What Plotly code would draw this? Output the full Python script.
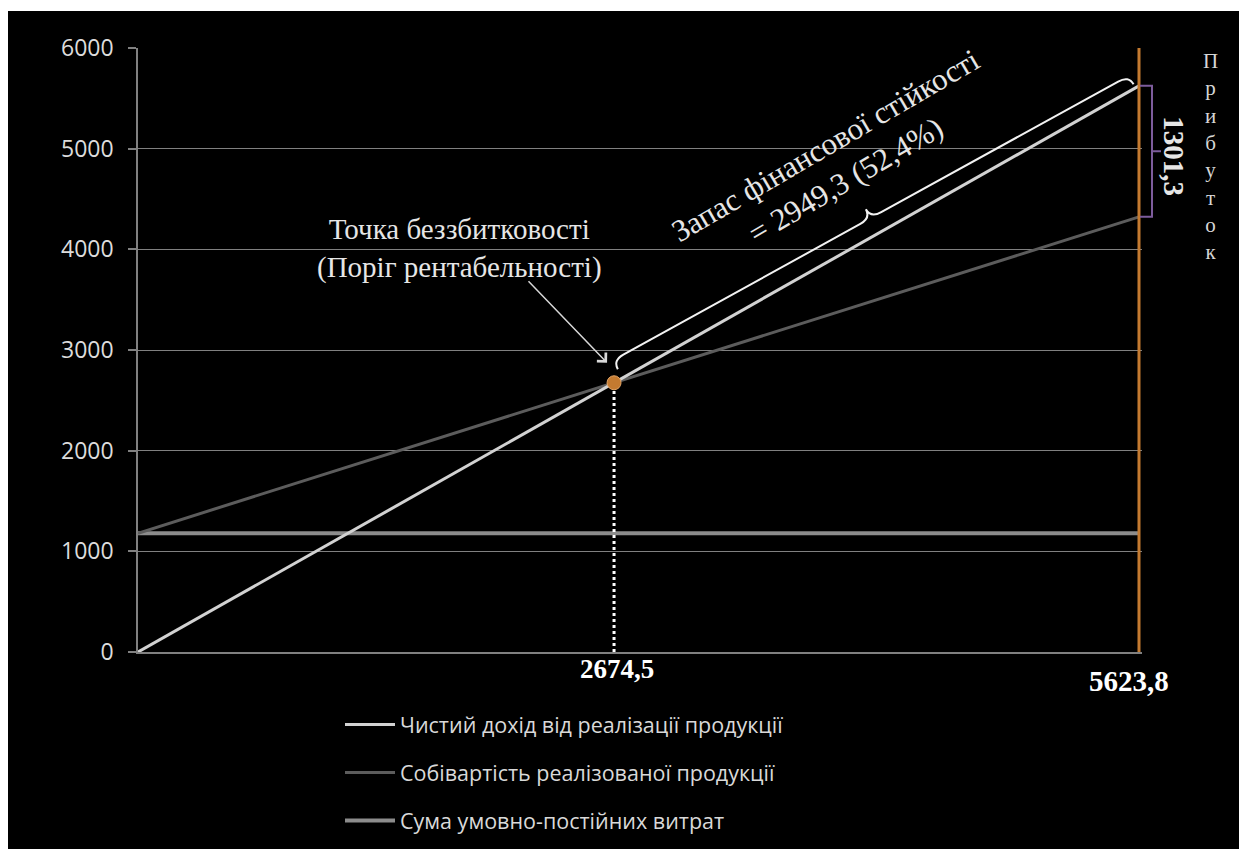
import math
import plotly.graph_objects as go

# Break-even analysis (thousand UAH)
sales_volume = [0, 5623.8]
net_revenue = [0, 5623.8]
total_cost = [1180.0, 4322.5]
fixed_cost = [1180.0, 1180.0]
break_even = 2674.5
actual_sales = 5623.8
profit = 1301.3
y_ticks = [0, 1000, 2000, 3000, 4000, 5000, 6000]

series_names = [
    "Чистий дохід від реалізації продукції",
    "Собівартість реалізованої продукції",
    "Сума умовно-постійних витрат",
]

# Page / plot geometry (px)
W, H = 1239, 849
ML, MT, MB = 138, 48, 197
PLOT_W = 1004
PLOT_H = H - MT - MB
X_MAX = actual_sales * PLOT_W / 1001
Y_MAX = 6000

SERIF = "Liberation Serif, Times New Roman, serif"
SANS = "Open Sans, Noto Sans, sans-serif"
TEXT = "#e6e6e6"
GRID = "#808080"
ORANGE = "#c47a30"
PURPLE = "#7d5c9c"


def to_px(x, y):
    return ML + x / X_MAX * PLOT_W, MT + (1 - y / Y_MAX) * PLOT_H


def to_data(px, py):
    return (px - ML) / PLOT_W * X_MAX, (1 - (py - MT) / PLOT_H) * Y_MAX


def fmt(v, nd=1):
    return f"{v:.{nd}f}".replace(".", ",")


fig = go.Figure()

fig.add_trace(go.Scatter(
    x=sales_volume, y=fixed_cost, mode="lines", name=series_names[2],
    line=dict(color="#8c8c8c", width=4), legendgroup="c", legendrank=3,
))
fig.add_trace(go.Scatter(
    x=sales_volume, y=total_cost, mode="lines", name=series_names[1],
    line=dict(color="#5c5c5c", width=3), legendgroup="b", legendrank=2,
))
fig.add_trace(go.Scatter(
    x=sales_volume, y=net_revenue, mode="lines", name=series_names[0],
    line=dict(color="#d2d2d2", width=3), legendgroup="a", legendrank=1,
))

# Drop line and marker at the break-even point
fig.add_trace(go.Scatter(
    x=[break_even, break_even], y=[0, break_even], mode="lines",
    line=dict(color="#ffffff", width=3, dash="dot"), showlegend=False,
))
fig.add_trace(go.Scatter(
    x=[break_even], y=[break_even], mode="markers", showlegend=False,
    marker=dict(color=ORANGE, size=14, line=dict(color="#e2a466", width=1)),
))

# Actual sales volume marker line
fig.add_shape(type="line", xref="x", yref="y", x0=actual_sales, x1=actual_sales,
              y0=0, y1=Y_MAX, line=dict(color=ORANGE, width=3), layer="above")

# Dark panel behind everything
fig.add_shape(type="rect", xref="paper", yref="paper",
              x0=(8 - ML) / PLOT_W, x1=(W + 20 - ML) / PLOT_W,
              y0=-(H + 20 - MT - PLOT_H) / PLOT_H, y1=(MT + PLOT_H - 11) / PLOT_H,
              fillcolor="#000000", line=dict(width=0), layer="below")

# Curly brace for the margin of safety along the revenue line
bx, by = to_px(break_even, break_even)
ex, ey = to_px(actual_sales, actual_sales)
L = math.hypot(ex - bx, ey - by)
ux, uy = (ex - bx) / L, (ey - by) / L
nx, ny = uy, -ux


def pt(px, py, a=0.0, b=0.0):
    return px + ux * a + nx * b, py + uy * a + ny * b


p0 = pt(bx, by, 10, 10)
p1 = pt(ex, ey, -4, 4)
mx, my = (p0[0] + p1[0]) / 2, (p0[1] + p1[1]) / 2
h, q = 20, 12
pts = [
    p0,
    pt(*p0, 0, h / 2), pt(*p0, q, h / 2),
    pt(mx, my, -q, h / 2),
    pt(mx, my, 0, h / 2), pt(mx, my, 0, h),
    pt(mx, my, 0, h / 2), pt(mx, my, q, h / 2),
    pt(*p1, -q, h / 2),
    pt(*p1, 0, h / 2), p1,
]
d = [to_data(*p) for p in pts]
s = lambda p: f"{p[0]:.3f},{p[1]:.3f}"
brace = (f"M {s(d[0])} Q {s(d[1])} {s(d[2])} L {s(d[3])} Q {s(d[4])} {s(d[5])} "
         f"Q {s(d[6])} {s(d[7])} L {s(d[8])} Q {s(d[9])} {s(d[10])}")
fig.add_shape(type="path", xref="x", yref="y", path=brace,
              line=dict(color="#f2f2f2", width=2), layer="above")

cusp = pt(mx, my, 0, h)
angle = math.degrees(math.atan2(-(ey - by), ex - bx))
tx, ty = to_data(*pt(*cusp, -3, 56))
margin = actual_sales - break_even
fig.add_annotation(
    x=tx, y=ty, xref="x", yref="y", showarrow=False, textangle=-(angle + 0.8),
    text=f"Запас фінансової стійкості<br>= {fmt(margin)} ({fmt(margin / actual_sales * 100)}%)",
    font=dict(family=SERIF, size=31, color=TEXT), xanchor="center", yanchor="middle",
)

# Break-even caption with arrow
cx, cy = to_data(bx - 155, by - 134)
fig.add_annotation(
    x=cx, y=cy, xref="x", yref="y", showarrow=False,
    text="Точка беззбитковості<br>(Поріг рентабельності)",
    font=dict(family=SERIF, size=29, color=TEXT), xanchor="center", yanchor="middle",
)
tipx, tipy = to_data(bx - 7, by - 20)
tailx, taily = to_data(bx - 87, by - 103)
fig.add_annotation(
    x=tipx, y=tipy, ax=tailx, ay=taily, xref="x", yref="y", axref="x", ayref="y",
    text="", showarrow=True, arrowhead=4, arrowsize=1.6, arrowwidth=1.5,
    arrowcolor="#d8d8d8",
)

# Profit bracket on the right
cost_end = total_cost[-1]
rev_end = net_revenue[-1]
mid = (cost_end + rev_end) / 2
xa, xb, xc = (1140 - ML) / PLOT_W, (1152 - ML) / PLOT_W, (1161 - ML) / PLOT_W
fig.add_shape(
    type="path", xref="paper", yref="y",
    path=(f"M {xa},{rev_end} L {xb},{rev_end} L {xb},{cost_end} L {xa},{cost_end} "
          f"M {xb},{mid} L {xc},{mid}"),
    line=dict(color=PURPLE, width=2), layer="above",
)
fig.add_annotation(
    x=(1174 - ML) / PLOT_W, y=mid, xref="paper", yref="y", showarrow=False, yshift=-5,
    text=f"<b>{fmt(rev_end - cost_end)}</b>", textangle=90,
    font=dict(family=SERIF, size=29, color=TEXT), xanchor="center", yanchor="middle",
)
fig.add_annotation(
    x=(1210 - ML) / PLOT_W, y=(MT + PLOT_H - 156) / PLOT_H, xref="paper", yref="paper",
    showarrow=False, text="<br>".join("Прибуток"),
    font=dict(family=SERIF, size=21, color="#d6d6d6"), xanchor="center", yanchor="middle",
)

# Values on the horizontal axis
fig.add_annotation(
    x=break_even, y=0, xref="x", yref="y", showarrow=False, yshift=-17, xshift=3,
    text=f"<b>{fmt(break_even)}</b>", font=dict(family=SERIF, size=27, color="#ffffff"),
    xanchor="center", yanchor="middle",
)
fig.add_annotation(
    x=actual_sales, y=0, xref="x", yref="y", showarrow=False, yshift=-29, xshift=-10,
    text=f"<b>{fmt(actual_sales)}</b>", font=dict(family=SERIF, size=29, color="#ffffff"),
    xanchor="center", yanchor="middle",
)

fig.update_xaxes(
    range=[0, X_MAX], showgrid=False, zeroline=False, showticklabels=False,
    showline=True, linecolor=GRID, linewidth=1.5, ticks="",
)
fig.update_yaxes(
    range=[0, Y_MAX], tickvals=y_ticks, showgrid=True, gridcolor=GRID, gridwidth=1,
    zeroline=False, showline=True, linecolor=GRID, linewidth=1.5,
    ticks="outside", ticklen=8, tickcolor=GRID, tickwidth=1.5,
    ticklabelstandoff=10, tickfont=dict(family=SANS, size=23, color="#dcdcdc"),
)

fig.update_layout(
    width=W, height=H,
    margin=dict(l=ML, r=W - ML - PLOT_W, t=MT, b=MB, pad=0, autoexpand=False),
    paper_bgcolor="#ffffff", plot_bgcolor="#000000",
    showlegend=True,
    legend=dict(
        x=(340 - ML) / PLOT_W, y=-(704 - MT - PLOT_H) / PLOT_H,
        xanchor="left", yanchor="top", orientation="v",
        traceorder="grouped", tracegroupgap=17, itemwidth=50,
        bgcolor="rgba(0,0,0,0)", font=dict(family=SANS, size=21.5, color="#d9d9d9"),
    ),
)

fig.write_html("out.html")
